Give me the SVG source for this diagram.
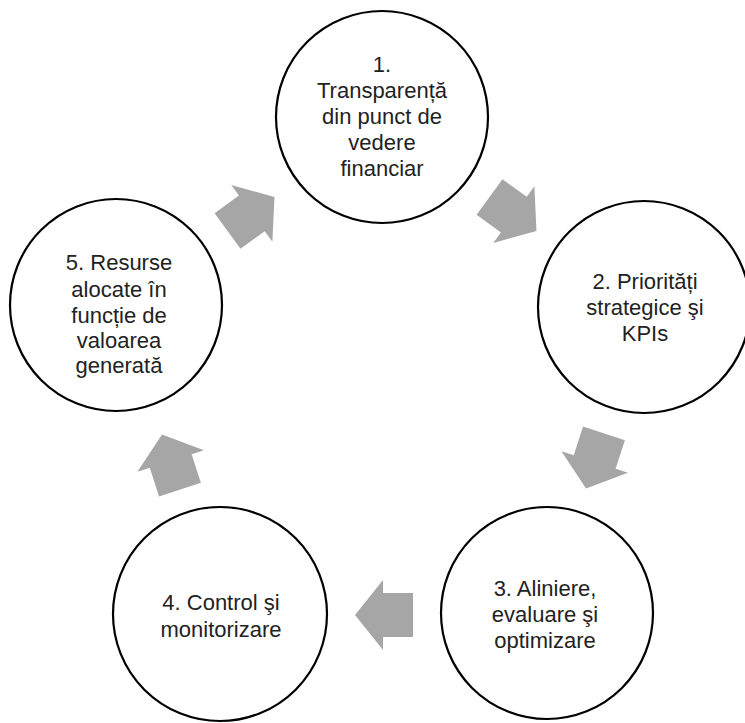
<svg xmlns="http://www.w3.org/2000/svg" width="745" height="723" viewBox="0 0 745 723">
<defs>
<style>
.node circle{fill:#ffffff;stroke:#000000;stroke-width:2.2}
.node text{font-family:"Liberation Sans",Arial,sans-serif;font-size:22px;fill:#222222;text-anchor:middle}
.arr{fill:#a6a6a6;stroke:none}
</style>
<polygon id="arrowShape" class="arr" points="29,0 1,35 1,22 -29,22 -29,-22 1,-22 1,-35"/>
</defs>
<rect width="745" height="723" fill="#ffffff"/>
<g id="connectors">
<use href="#arrowShape" transform="translate(513,214) rotate(36)"/>
<use href="#arrowShape" transform="translate(595,461) rotate(108)"/>
<use href="#arrowShape" transform="translate(384,615) rotate(180)"/>
<use href="#arrowShape" transform="translate(171,462) rotate(-108)"/>
<use href="#arrowShape" transform="translate(251,214) rotate(-36)"/>
</g>
<g id="node1" class="node">
<circle cx="382" cy="117" r="106"/>
<text x="382" y="72">1.</text>
<text x="382" y="98">Transparență</text>
<text x="382" y="124">din punct de</text>
<text x="382" y="150">vedere</text>
<text x="382" y="176">financiar</text>
</g>
<g id="node2" class="node">
<circle cx="644" cy="307" r="106"/>
<text x="645" y="289">2. Priorități</text>
<text x="645" y="315">strategice şi</text>
<text x="645" y="341">KPIs</text>
</g>
<g id="node3" class="node">
<circle cx="547" cy="613" r="106"/>
<text x="545" y="596">3. Aliniere,</text>
<text x="545" y="622">evaluare şi</text>
<text x="545" y="648">optimizare</text>
</g>
<g id="node4" class="node">
<circle cx="220" cy="614" r="107"/>
<text x="221" y="610">4. Control şi</text>
<text x="221" y="637">monitorizare</text>
</g>
<g id="node5" class="node">
<circle cx="116" cy="305" r="106"/>
<text x="119" y="270">5. Resurse</text>
<text x="119" y="297">alocate în</text>
<text x="119" y="323">funcție de</text>
<text x="119" y="348">valoarea</text>
<text x="119" y="373">generată</text>
</g>
</svg>
